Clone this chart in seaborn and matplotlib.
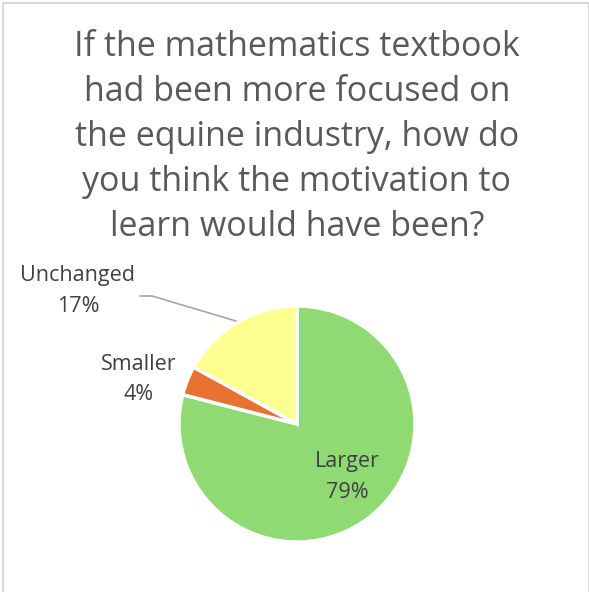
import matplotlib
matplotlib.use("Agg")
import matplotlib.pyplot as plt
import seaborn as sns
from matplotlib.patches import Rectangle

categories = ["Larger", "Smaller", "Unchanged"]
values = [79, 4, 17]
colors = ["#90DA73", "#E97132", "#FFFF90"]
title_lines = ["If the mathematics textbook", "had been more focused on",
               "the equine industry, how do", "you think the motivation to",
               "learn would have been?"]

sns.set_style("white")
plt.rcParams['font.family'] = ['Open Sans', 'DejaVu Sans']

W, H = 589, 592
fig = plt.figure(figsize=(W / 100, H / 100), dpi=100)
ax = fig.add_axes([0, 0, 1, 1])

cx, cy, r = 297, H - 424, 118
wedges, _ = ax.pie(values, colors=colors, startangle=90, counterclock=False,
                   center=(cx, cy), radius=r, frame=True,
                   wedgeprops=dict(edgecolor="white", linewidth=2.5))
ax.set_xlim(0, W)
ax.set_ylim(0, H)
ax.set_aspect("equal")
ax.axis("off")

txt = "#595959"
for i, line in enumerate(title_lines):
    ax.text(297, H - (47 + 45 * i), line, ha="center", va="center",
            fontsize=24.5, color=txt)

lab_fs = 15.5
lab_c = "#404040"
ax.text(347, H - 462, f"{categories[0]}", ha="center", va="center", fontsize=lab_fs, color=lab_c)
ax.text(347, H - 492, f"{values[0]}%", ha="center", va="center", fontsize=lab_fs, color=lab_c)
ax.text(139, H - 364, f"{categories[1]}", ha="center", va="center", fontsize=lab_fs, color=lab_c)
ax.text(139, H - 394, f"{values[1]}%", ha="center", va="center", fontsize=lab_fs, color=lab_c)
ax.text(78, H - 276, f"{categories[2]}", ha="center", va="center", fontsize=lab_fs, color=lab_c)
ax.text(78, H - 306, f"{values[2]}%", ha="center", va="center", fontsize=lab_fs, color=lab_c)

ax.plot([140, 152, 236], [H - 296, H - 296, H - 321], color="#A6A6A6", lw=1.2)

fig.patches.append(Rectangle((3 / W, -0.1), (588.5 - 3) / W, (H - 3) / H + 0.1,
                             transform=fig.transFigure, fill=False,
                             edgecolor="#D9D9D9", linewidth=1.5))

fig.savefig("out.png", dpi=100)
